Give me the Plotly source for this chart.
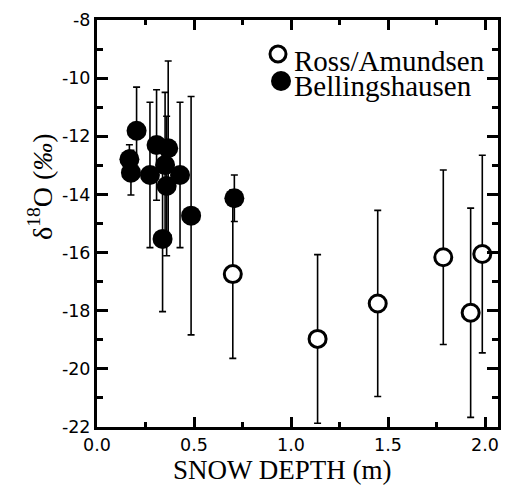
import plotly.graph_objects as go

# Ross/Amundsen (open circles)
ross_depth = [0.70, 1.137, 1.447, 1.785, 1.926, 1.986]
ross_d18o = [-16.74, -18.97, -17.75, -16.16, -18.07, -16.05]
ross_err = [2.9, 2.9, 3.2, 3.0, 3.6, 3.4]

# Bellingshausen (filled circles)
bell_depth = [0.204, 0.167, 0.175, 0.307, 0.367, 0.273, 0.351, 0.359, 0.428, 0.485, 0.338, 0.708]
bell_d18o = [-11.81, -12.79, -13.25, -12.30, -12.41, -13.33, -12.99, -13.71, -13.33, -14.73, -15.53, -14.13]
bell_err = [1.5, 0.5, 0.77, 1.9, 3.0, 2.5, 2.5, 2.4, 2.5, 4.1, 2.5, 0.8]

x_ticks = [0.0, 0.5, 1.0, 1.5, 2.0]
x_ticklabels = ["0.0", "0.5", "1.0", "1.5", "2.0"]
y_ticks = [-22, -20, -18, -16, -14, -12, -10, -8]
y_ticklabels = ["-22", "-20", "-18", "-16", "-14", "-12", "-10", "-8"]

legend_names = ["Ross/Amundsen", "Bellingshausen"]

W, H = 505, 494
L, R, T, B = 97, 7, 20, 67
PW, PH = W - L - R, H - T - B


def px_x(p):
    return (p - L) / PW


def px_y(p):
    return (H - B - p) / PH


fig = go.Figure()
fig.add_trace(go.Scatter(
    x=ross_depth, y=ross_d18o, mode="markers", name=legend_names[0],
    marker=dict(symbol="circle", size=17, color="white", line=dict(color="black", width=3)),
    error_y=dict(type="data", array=ross_err, color="black", thickness=1.6, width=3.5),
))
fig.add_trace(go.Scatter(
    x=bell_depth, y=bell_d18o, mode="markers", name=legend_names[1],
    marker=dict(symbol="circle", size=20, color="black", line=dict(color="black", width=0)),
    error_y=dict(type="data", array=bell_err, color="black", thickness=1.6, width=3.5),
))

tickfont = dict(family="DejaVu Sans, Arial, sans-serif", size=17.5, color="black")
fig.update_xaxes(
    range=[0, 2.067], tickvals=x_ticks, ticktext=x_ticklabels, automargin=False,
    showline=True, linewidth=3, linecolor="black", mirror="ticks",
    ticks="inside", ticklen=10, tickwidth=3, tickcolor="black",
    minor=dict(dtick=0.25, ticks="inside", ticklen=5, tickwidth=3, tickcolor="black"),
    showgrid=False, zeroline=False, tickfont=tickfont,
)
fig.update_yaxes(
    range=[-22, -8], tickvals=y_ticks, ticktext=y_ticklabels, automargin=False,
    showline=True, linewidth=3, linecolor="black", mirror="ticks",
    ticks="inside", ticklen=11, tickwidth=3, tickcolor="black",
    minor=dict(dtick=1, ticks="inside", ticklen=6, tickwidth=3, tickcolor="black"),
    showgrid=False, zeroline=False, tickfont=tickfont,
)

serif = "Liberation Serif, Times New Roman, serif"
# axis titles
fig.add_annotation(
    text="SNOW DEPTH (m)", xref="paper", yref="paper", x=px_x(282), y=px_y(470),
    xanchor="center", yanchor="middle", showarrow=False,
    font=dict(family=serif, size=27, color="black"),
)
fig.add_annotation(
    text="δ<sup>18</sup>O (<i>‰</i>)", xref="paper", yref="paper", x=px_x(40), y=px_y(187),
    xanchor="center", yanchor="middle", textangle=-90, showarrow=False,
    font=dict(family=serif, size=28, color="black"),
)

# manual legend
leg_text_y = [61, 86]
leg_sym = [(278, 54), (281, 81)]
for i, name in enumerate(legend_names):
    fig.add_annotation(
        text=name, xref="paper", yref="paper", x=px_x(292), y=px_y(leg_text_y[i]),
        xanchor="left", yanchor="middle", showarrow=False,
        font=dict(family=serif, size=29, color="black"),
    )
sx, sy = leg_sym[0]
fig.add_shape(type="circle", xref="paper", yref="paper", xsizemode="pixel", ysizemode="pixel",
              xanchor=px_x(sx), yanchor=px_y(sy), x0=-8, x1=8, y0=-8, y1=8,
              line=dict(color="black", width=3), fillcolor="white")
sx, sy = leg_sym[1]
fig.add_shape(type="circle", xref="paper", yref="paper", xsizemode="pixel", ysizemode="pixel",
              xanchor=px_x(sx), yanchor=px_y(sy), x0=-10, x1=10, y0=-10, y1=10,
              line=dict(color="black", width=0), fillcolor="black")

fig.update_layout(
    width=W, height=H,
    margin=dict(l=L, r=R, t=T, b=B),
    plot_bgcolor="white", paper_bgcolor="white",
    showlegend=False,
)

fig.write_html("out.html", config={"displayModeBar": False},
               post_script="document.body.style.margin='0';document.body.style.overflow='hidden';")
